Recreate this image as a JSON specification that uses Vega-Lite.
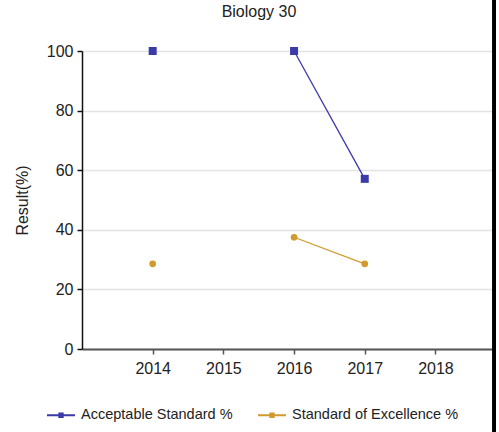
{
  "$schema": "https://vega.github.io/schema/vega-lite/v6.json",
  "width": 410,
  "height": 298,
  "autosize": {"type": "none"},
  "padding": {"left": 82, "top": 51, "right": 7, "bottom": 83},
  "background": "white",
  "title": {"text": "Biology 30", "font": "Liberation Sans", "fontSize": 16, "fontWeight": "normal", "color": "#222222", "dx": -28, "offset": -23, "frame": "group"},
  "config": {
    "view": {"stroke": null},
    "font": "Liberation Sans"
  },
  "data": {
    "values": [
      {"year": 2014, "series": "Acceptable Standard %", "value": 100},
      {"year": 2015, "series": "Acceptable Standard %", "value": null},
      {"year": 2016, "series": "Acceptable Standard %", "value": 100},
      {"year": 2017, "series": "Acceptable Standard %", "value": 57.1},
      {"year": 2014, "series": "Standard of Excellence %", "value": 28.6},
      {"year": 2015, "series": "Standard of Excellence %", "value": null},
      {"year": 2016, "series": "Standard of Excellence %", "value": 37.5},
      {"year": 2017, "series": "Standard of Excellence %", "value": 28.6}
    ]
  },
  "encoding": {
    "x": {
      "field": "year",
      "type": "quantitative",
      "scale": {"domain": [2013, 2018.8], "nice": false, "zero": false},
      "axis": {
        "title": null,
        "values": [2014, 2015, 2016, 2017, 2018],
        "format": "d",
        "grid": false,
        "domainColor": "#555555",
        "domainWidth": 2,
        "tickColor": "#555555",
        "tickSize": 5,
        "tickWidth": 1.5,
        "labelFontSize": 16,
        "labelColor": "#222222",
        "labelPadding": 6
      }
    },
    "y": {
      "field": "value",
      "type": "quantitative",
      "scale": {"domain": [0, 100], "nice": false},
      "axis": {
        "title": "Result(%)",
        "titleFontSize": 16,
        "titleFontWeight": "normal",
        "titleColor": "#222222",
        "titlePadding": 16,
        "values": [0, 20, 40, 60, 80, 100],
        "grid": true,
        "gridColor": "#e3e3e3",
        "gridWidth": 1.5,
        "domainColor": "#111111",
        "domainWidth": 1.5,
        "tickColor": "#111111",
        "tickSize": 5,
        "tickWidth": 1.5,
        "labelFontSize": 16,
        "labelColor": "#222222",
        "labelPadding": 4
      }
    }
  },
  "layer": [
    {
      "mark": {"type": "line", "strokeWidth": 1.3, "invalid": "break-paths-show-domains"},
      "encoding": {
        "color": {
          "field": "series",
          "type": "nominal",
          "scale": {"domain": ["Acceptable Standard %", "Standard of Excellence %"], "range": ["#3a3aa8", "#d19a2e"]},
          "legend": {
            "title": null,
            "orient": "none",
            "direction": "horizontal",
            "legendX": -36,
            "legendY": 349,
            "symbolType": "M-1,0H1M-0.12,-0.12H0.12V0.12H-0.12Z",
            "symbolSize": 784,
            "symbolStrokeWidth": 2,
            "labelFontSize": 14.5,
            "labelColor": "#222222",
            "labelOffset": 5,
            "columnPadding": 21,
            "labelLimit": 300
          }
        }
      }
    },
    {
      "transform": [{"filter": "datum.series === 'Acceptable Standard %' && datum.value != null"}],
      "mark": {"type": "point", "shape": "square", "filled": true, "opacity": 1, "size": 64, "color": "#3a3aa8"}
    },
    {
      "transform": [{"filter": "datum.series === 'Standard of Excellence %' && datum.value != null"}],
      "mark": {"type": "point", "shape": "circle", "filled": true, "opacity": 1, "size": 45, "color": "#d19a2e"}
    },
    {
      "mark": {"type": "rule", "color": "#000000", "strokeWidth": 3, "clip": false},
      "encoding": {
        "x": {"datum": 2018.83},
        "y": {"datum": 117.5},
        "y2": {"datum": -28}
      }
    }
  ]
}
